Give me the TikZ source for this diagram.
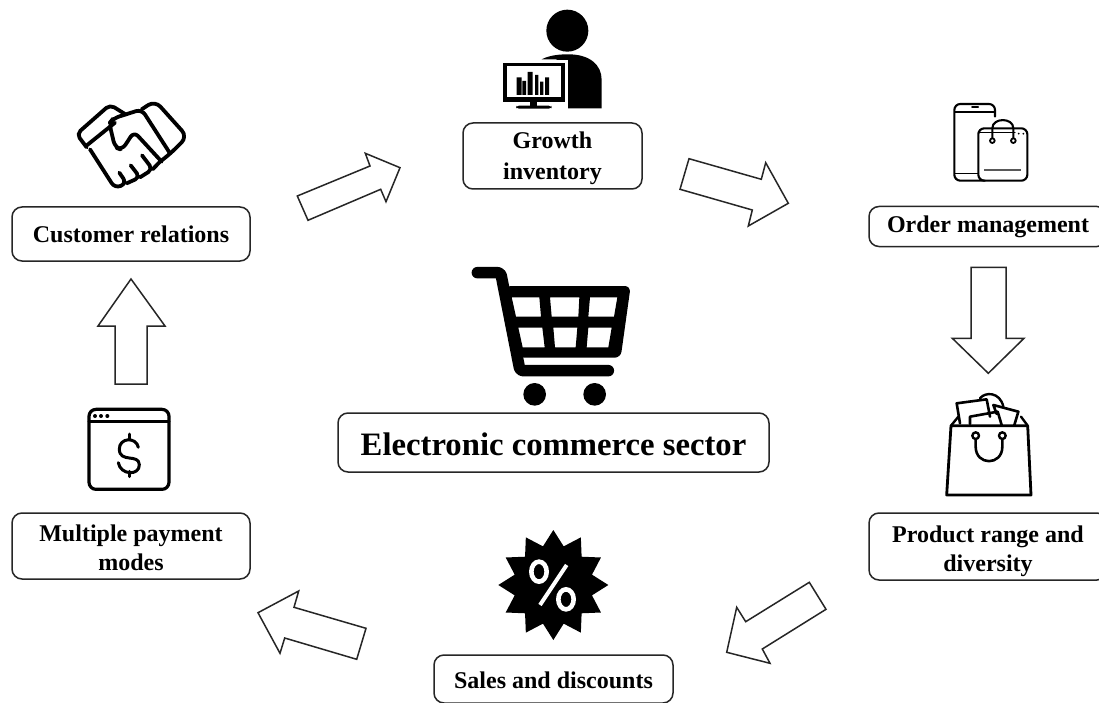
\documentclass[tikz,border=0pt]{standalone}
\usepackage{fontspec}
\setmainfont{Liberation Serif}
\newcommand\tp[1]{\rule{0pt}{#1pt}}
\tikzset{
  box/.style={draw=black!85,line width=1.5pt,rounded corners=10pt,fill=white,align=center,inner sep=0pt,font=\fontsize{24}{29}\selectfont\bfseries},
  blockarrow/.style={draw=black!85,line width=1.5pt,fill=white,line join=miter},
  ico/.style={draw=black,line join=round,line cap=round},
  zoomed/.style={x=.33333pt,y=-.33333pt},
}
\begin{document}
\begin{tikzpicture}[x=1pt,y=-1pt]
\useasboundingbox (0,0) rectangle (1099,703);
\fill[white] (0,0) rectangle (1099,703);
\clip (0,0) rectangle (1099,703);

% boxes
\node[box,minimum width=238pt,minimum height=54pt] (cust) at (131,234) {Customer relations};
\node[box,minimum width=179pt,minimum height=66pt] (grow) at (552.5,156) {\tp{22}Growth\\[2pt]inventory};
\node[box,minimum width=238pt,minimum height=40pt] (order) at (988,226.5) {\tp{18}Order management};
\node[box,minimum width=238pt,minimum height=67pt] (prod) at (988,546.5) {\tp{26.5}Product range and\\diversity};
\node[box,minimum width=239pt,minimum height=48pt] (sales) at (553.5,679) {\tp{20}Sales and discounts};
\node[box,minimum width=238pt,minimum height=66pt] (pay) at (131,546) {\tp{20.5}Multiple payment\\modes};
\node[box,minimum width=431pt,minimum height=59pt,font=\fontsize{32.7}{38}\selectfont\bfseries] (sector) at (553.5,442.5) {\tp{27}Electronic commerce sector};

% block arrows
\draw[blockarrow] (297.3,196)--(370,166)--(365.3,153.3)--(400,167.7)--(386,201.7)--(380.7,189.3)--(308,220.3)--cycle;
\draw[blockarrow] (689,158.7)--(761.3,179.3)--(765.7,162.7)--(788.3,203.3)--(748.3,226)--(752.3,210)--(680,189.3)--cycle;
\draw[blockarrow] (971,267.3)--(1006,267.3)--(1006,338.3)--(1024,338.3)--(988.3,373.3)--(952.3,338.3)--(971,338.3)--cycle;
\draw[blockarrow] (809.3,582.3)--(826,609.3)--(762.3,649)--(770,663.3)--(726.7,652.3)--(736.7,607.3)--(745.7,621.7)--cycle;
\draw[blockarrow] (258,612.7)--(298.7,591)--(294,607.3)--(366,628.3)--(356.7,659.3)--(284.7,638)--(280,653.3)--cycle;
\draw[blockarrow] (131,279)--(165,326)--(147,326)--(147,384)--(115,384)--(115,326)--(98,326)--cycle;

% handshake
\begin{scope}[shift={(60pt,-90pt)},zoomed]
\draw[ico,line width=3.8pt,rounded corners=5pt]
  (80,172)--(50,132)--(150,44)--(198,74);
\draw[ico,line width=3.8pt] (78,168)--(165,98);
\draw[ico,line width=3.8pt,rounded corners=6pt]
  (90,178)--(165,295)--(200,280)--(178,248);
\draw[ico,line width=3.8pt,rounded corners=5pt] (200,280)--(240,262)--(212,226) (240,262)--(278,238)--(246,196) (278,238)--(300,215);
\draw[ico,line width=3.8pt,rounded corners=6pt]
  (330,190)--(245,58)--(195,74)--(160,85)--(148,100)--(165,172)--(186,180)--(222,125)--(305,215);
\draw[ico,line width=3.8pt,rounded corners=8pt]
  (245,58)--(285,32)--(382,140)--(330,192)--(300,215);
\end{scope}

% person with monitor
\begin{scope}[shift={(480pt,0pt)},zoomed]
\fill[black] (262,92) circle[radius=63];
\fill[black] (185,178) .. controls (210,165) and (240,163) .. (265,163)
  .. controls (330,163) and (365,195) .. (365,240) -- (365,325) -- (230,325) -- (230,178) -- cycle;
\fill[white] (60,180) rectangle (265,328);
\fill[black] (68,188) rectangle (255,305);
\fill[white] (80,198) rectangle (242,292);
\fill[black] (110,232) rectangle (125,285) (127,243) rectangle (138,285)
  (143,216) rectangle (158,285) (165,225) rectangle (175,285)
  (180,245) rectangle (190,285) (195,232) rectangle (207,285);
\fill[black] (150,305) rectangle (172,320);
\fill[black,rounded corners=3pt] (108,317) rectangle (215,326);
\end{scope}

% phone and bag
\begin{scope}[shift={(940pt,-90pt)},zoomed]
\draw[ico,line width=2.1pt,rounded corners=6pt] (165,80)--(165,42)--(43,42)--(43,272)--(135,272);
\draw[ico,line width=1.6pt] (45,66)--(165,66) (45,250)--(115,250);
\draw[ico,line width=2pt] (96,52)--(114,52);
\draw[ico,line width=2.1pt,rounded corners=6pt] (115,115)--(262,115)--(262,272)--(115,272)--cycle;
\draw[ico,line width=1.4pt] (115,128)--(225,128);
\draw[ico,line width=2.1pt] (157,150)--(157,115) .. controls (157,82) and (220,82) .. (220,115)--(220,150);
\draw[ico,line width=1.8pt,fill=white] (157,152) circle[radius=7] (220,152) circle[radius=7];
\fill[black] (236,131) circle[radius=3] (250,131) circle[radius=3];
\draw[draw=black!65,line width=2.2pt] (132,240)--(244,240);
\end{scope}

% cart
\begin{scope}[shift={(460pt,-255pt)},zoomed]
\draw[ico,line width=11.5pt,rounded corners=3pt] (52,53)--(122,53)--(180,347)--(445,347);
\fill[black,even odd rule,rounded corners=6pt]
  (135,93)--(512,93)--(482,308)--(175,308)--cycle
  [sharp corners]
  (155,127)--(238,127)--(243,185)--(168,185)--cycle
  (270,127)--(358,127)--(355,185)--(275,185)--cycle
  (390,127)--(472,127)--(462,185)--(385,185)--cycle
  (175,218)--(247,218)--(254,277)--(188,277)--cycle
  (280,218)--(352,218)--(347,277)--(285,277)--cycle
  (385,218)--(455,218)--(445,277)--(380,277)--cycle;
\fill[black] (224,418) circle[radius=34] (404,418) circle[radius=34];
\end{scope}

% shopping bag with goods
\begin{scope}[shift={(935pt,-260pt)},zoomed]
\draw[ico,line width=2.8pt] (48,497)--(278,497)--(288,705)--(35,705)--cycle;
\draw[ico,line width=2.4pt] (48,497)--(70,470) (278,497)--(258,470);
\draw[ico,line width=2.6pt] (75,490)--(65,430)--(155,418)--(165,470);
\draw[ico,line width=2.6pt] (105,492)--(105,470)--(188,455)--(200,495);
\draw[ico,line width=2.6pt] (185,462)--(175,435)--(250,455)--(238,495);
\draw[ico,line width=2.4pt] (135,415) .. controls (150,395) and (195,395) .. (205,440);
\draw[ico,line width=2.6pt] (122,537)--(122,560) .. controls (122,618) and (202,618) .. (202,560)--(202,537);
\draw[ico,line width=2.4pt,fill=white] (122,527) circle[radius=10] (202,527) circle[radius=10];
\end{scope}

% discount star
\begin{scope}[shift={(490pt,-535pt)},zoomed]
\fill[black] (190,-15)
  \foreach \a in {0,30,...,330}{ -- ({190+120*cos(105+\a)},{150-120*sin(105+\a)}) -- ({190+165*cos(120+\a)},{150-165*sin(120+\a)}) } -- cycle;
\draw[white,line width=4.6pt] (147,110) ellipse[x radius=23,y radius=30];
\draw[white,line width=4.6pt] (228,193) ellipse[x radius=23,y radius=30];
\draw[white,line width=4pt] (150,210)--(230,90);
\end{scope}

% payment window
\begin{scope}[shift={(75pt,-400pt)},zoomed]
\draw[ico,line width=3.2pt,rounded corners=7pt] (42,28) rectangle (282,268);
\draw[ico,line width=3pt] (42,63)--(282,63);
\fill[black] (60,48) circle[radius=6] (78,48) circle[radius=6] (97,48) circle[radius=6];
\draw[ico,line width=3pt] (190,142) .. controls (184,110) and (132,112) .. (133,148)
  .. controls (134,190) and (192,160) .. (193,194)
  .. controls (194,228) and (136,226) .. (130,188);
\draw[ico,line width=3pt] (162,102)--(162,118) (162,214)--(162,230);
\end{scope}
\end{tikzpicture}
\end{document}
